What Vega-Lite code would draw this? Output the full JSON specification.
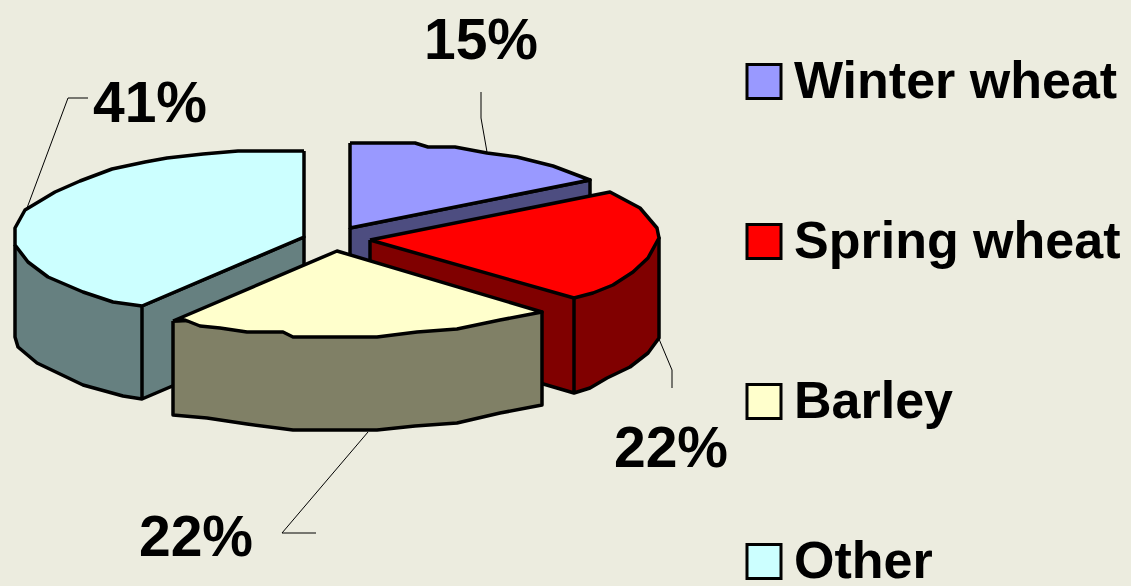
{"$schema":"https://vega.github.io/schema/vega-lite/v6.json","width":1131,"height":586,"padding":0,"autosize":{"type":"none"},"background":"#ECECDF","view":{"stroke":null},"config":{"view":{"stroke":null},"font":"Liberation Sans"},"encoding":{},"layer":[{"data":{"values":[
{"part":"Other side","seq":1,"x":15,"y":245},{"part":"Other side","seq":2,"x":15,"y":337},{"part":"Other side","seq":3,"x":18,"y":347},{"part":"Other side","seq":4,"x":37,"y":363},{"part":"Other side","seq":5,"x":83,"y":385},{"part":"Other side","seq":6,"x":123,"y":396},{"part":"Other side","seq":7,"x":142,"y":399},{"part":"Other side","seq":8,"x":142,"y":306},{"part":"Other side","seq":9,"x":142,"y":399},{"part":"Other side","seq":10,"x":304,"y":330},{"part":"Other side","seq":11,"x":304,"y":237},{"part":"Other side","seq":12,"x":142,"y":306},
{"part":"Other","seq":1,"x":304,"y":151},{"part":"Other","seq":2,"x":238,"y":151},{"part":"Other","seq":3,"x":203,"y":154},{"part":"Other","seq":4,"x":167,"y":158},{"part":"Other","seq":5,"x":145,"y":162},{"part":"Other","seq":6,"x":112,"y":169},{"part":"Other","seq":7,"x":80,"y":181},{"part":"Other","seq":8,"x":55,"y":192},{"part":"Other","seq":9,"x":25,"y":210},{"part":"Other","seq":10,"x":15,"y":228},{"part":"Other","seq":11,"x":15,"y":245},{"part":"Other","seq":12,"x":28,"y":262},{"part":"Other","seq":13,"x":48,"y":277},{"part":"Other","seq":14,"x":83,"y":292},{"part":"Other","seq":15,"x":113,"y":302},{"part":"Other","seq":16,"x":142,"y":306},{"part":"Other","seq":17,"x":304,"y":237},{"part":"Other","seq":18,"x":304,"y":151},
{"part":"Winter wheat side","seq":1,"x":350,"y":228},{"part":"Winter wheat side","seq":2,"x":590,"y":180},{"part":"Winter wheat side","seq":3,"x":590,"y":273},{"part":"Winter wheat side","seq":4,"x":350,"y":321},{"part":"Winter wheat side","seq":5,"x":350,"y":228},
{"part":"Winter wheat","seq":1,"x":350,"y":143},{"part":"Winter wheat","seq":2,"x":415,"y":143},{"part":"Winter wheat","seq":3,"x":428,"y":147},{"part":"Winter wheat","seq":4,"x":455,"y":147},{"part":"Winter wheat","seq":5,"x":487,"y":153},{"part":"Winter wheat","seq":6,"x":517,"y":157},{"part":"Winter wheat","seq":7,"x":553,"y":166},{"part":"Winter wheat","seq":8,"x":590,"y":180},{"part":"Winter wheat","seq":9,"x":350,"y":228},{"part":"Winter wheat","seq":10,"x":350,"y":143},
{"part":"Spring wheat side","seq":1,"x":370,"y":240},{"part":"Spring wheat side","seq":2,"x":370,"y":333},{"part":"Spring wheat side","seq":3,"x":574,"y":393},{"part":"Spring wheat side","seq":4,"x":574,"y":298},{"part":"Spring wheat side","seq":5,"x":574,"y":393},{"part":"Spring wheat side","seq":6,"x":590,"y":388},{"part":"Spring wheat side","seq":7,"x":607,"y":378},{"part":"Spring wheat side","seq":8,"x":630,"y":367},{"part":"Spring wheat side","seq":9,"x":648,"y":353},{"part":"Spring wheat side","seq":10,"x":659,"y":338},{"part":"Spring wheat side","seq":11,"x":659,"y":238},{"part":"Spring wheat side","seq":12,"x":574,"y":298},
{"part":"Spring wheat","seq":1,"x":370,"y":240},{"part":"Spring wheat","seq":2,"x":610,"y":192},{"part":"Spring wheat","seq":3,"x":640,"y":208},{"part":"Spring wheat","seq":4,"x":657,"y":228},{"part":"Spring wheat","seq":5,"x":659,"y":238},{"part":"Spring wheat","seq":6,"x":648,"y":258},{"part":"Spring wheat","seq":7,"x":633,"y":272},{"part":"Spring wheat","seq":8,"x":613,"y":285},{"part":"Spring wheat","seq":9,"x":593,"y":293},{"part":"Spring wheat","seq":10,"x":574,"y":298},{"part":"Spring wheat","seq":11,"x":370,"y":240},
{"part":"Barley side","seq":1,"x":173,"y":321},{"part":"Barley side","seq":2,"x":173,"y":415},{"part":"Barley side","seq":3,"x":207,"y":418},{"part":"Barley side","seq":4,"x":247,"y":424},{"part":"Barley side","seq":5,"x":293,"y":430},{"part":"Barley side","seq":6,"x":377,"y":430},{"part":"Barley side","seq":7,"x":415,"y":426},{"part":"Barley side","seq":8,"x":457,"y":423},{"part":"Barley side","seq":9,"x":500,"y":413},{"part":"Barley side","seq":10,"x":542,"y":405},{"part":"Barley side","seq":11,"x":542,"y":312},{"part":"Barley side","seq":12,"x":173,"y":321},
{"part":"Barley","seq":1,"x":173,"y":321},{"part":"Barley","seq":2,"x":337,"y":251},{"part":"Barley","seq":3,"x":542,"y":312},{"part":"Barley","seq":4,"x":500,"y":320},{"part":"Barley","seq":5,"x":457,"y":329},{"part":"Barley","seq":6,"x":417,"y":332},{"part":"Barley","seq":7,"x":377,"y":337},{"part":"Barley","seq":8,"x":293,"y":337},{"part":"Barley","seq":9,"x":283,"y":332},{"part":"Barley","seq":10,"x":247,"y":332},{"part":"Barley","seq":11,"x":220,"y":328},{"part":"Barley","seq":12,"x":200,"y":326},{"part":"Barley","seq":13,"x":185,"y":320},{"part":"Barley","seq":14,"x":173,"y":321}
]},"mark":{"type":"line","stroke":"black","strokeWidth":3.5,"strokeJoin":"round","interpolate":"linear"},"encoding":{"x":{"field":"x","type":"quantitative","scale":{"domain":[0,1131],"nice":false,"zero":false},"axis":null},"y":{"field":"y","type":"quantitative","scale":{"domain":[586,0],"nice":false,"zero":false},"axis":null},"order":{"field":"seq","type":"quantitative"},"detail":{"field":"part"},"fill":{"field":"part","type":"nominal","scale":{"domain":["Winter wheat","Spring wheat","Barley","Other","Winter wheat side","Spring wheat side","Barley side","Other side"],"range":["#9999FF","#FF0000","#FFFFCC","#CCFFFF","#4D4D80","#800000","#808066","#668080"]},"legend":{"title":null,"values":["Winter wheat","Spring wheat","Barley","Other"],"orient":"none","legendX":738,"legendY":63,"symbolType":"square","symbolSize":1156,"symbolStrokeColor":"black","symbolStrokeWidth":3,"symbolOpacity":1,"labelFont":"Liberation Sans","labelFontWeight":"bold","labelFontSize":52,"labelColor":"black","labelLimit":500,"labelOffset":4,"rowPadding":107,"clipHeight":37}}}},
{"data":{"values":[
{"leader":"Winter wheat","seq":1,"x":481,"y":92},{"leader":"Winter wheat","seq":2,"x":481,"y":118},{"leader":"Winter wheat","seq":3,"x":487,"y":152},
{"leader":"Other","seq":1,"x":88,"y":98},{"leader":"Other","seq":2,"x":68,"y":98},{"leader":"Other","seq":3,"x":27,"y":208},
{"leader":"Spring wheat","seq":1,"x":672,"y":388},{"leader":"Spring wheat","seq":2,"x":672,"y":370},{"leader":"Spring wheat","seq":3,"x":659,"y":339},
{"leader":"Barley","seq":1,"x":316,"y":533},{"leader":"Barley","seq":2,"x":282,"y":533},{"leader":"Barley","seq":3,"x":368,"y":432}
]},"mark":{"type":"line","stroke":"black","strokeWidth":1},"encoding":{"x":{"field":"x","type":"quantitative","scale":{"domain":[0,1131],"nice":false,"zero":false},"axis":null},"y":{"field":"y","type":"quantitative","scale":{"domain":[586,0],"nice":false,"zero":false},"axis":null},"order":{"field":"seq","type":"quantitative"},"detail":{"field":"leader"}}},
{"data":{"values":[
{"slice":"Winter wheat","share":0.15,"x":481,"y":59},{"slice":"Spring wheat","share":0.22,"x":671,"y":467},{"slice":"Barley","share":0.22,"x":196,"y":556},{"slice":"Other","share":0.41,"x":150,"y":122}
]},"mark":{"type":"text","font":"Liberation Sans","fontWeight":"bold","fontSize":57,"align":"center","baseline":"alphabetic","color":"black"},"encoding":{"x":{"field":"x","type":"quantitative","scale":{"domain":[0,1131],"nice":false,"zero":false},"axis":null},"y":{"field":"y","type":"quantitative","scale":{"domain":[586,0],"nice":false,"zero":false},"axis":null},"text":{"field":"share","type":"quantitative","format":".0%"}}}
]}
